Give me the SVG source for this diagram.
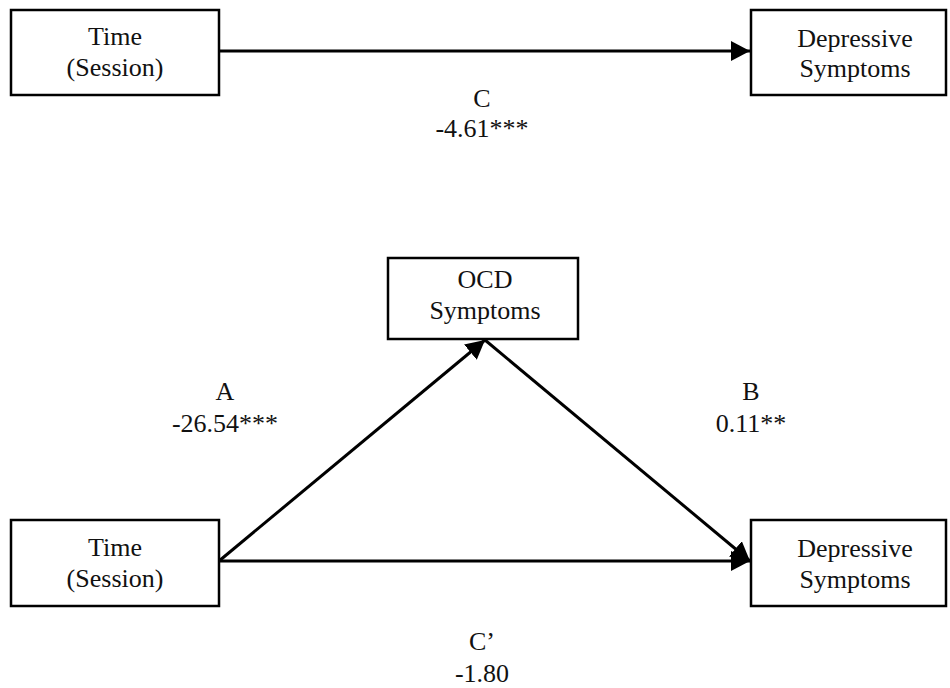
<svg xmlns="http://www.w3.org/2000/svg" width="950" height="688" viewBox="0 0 950 688">
<style>
.box{fill:#fff;stroke:#000;stroke-width:2.5}
.t{font-family:"Liberation Serif","DejaVu Serif","Times New Roman",serif;font-size:26px;fill:#111;text-anchor:middle}
.c{stroke:#000;stroke-width:3;fill:none}
</style>
<defs>
<marker id="ah" markerUnits="userSpaceOnUse" markerWidth="20" markerHeight="20" refX="19" refY="10" orient="auto">
<path d="M0,0 L19,10 L0,20 z" fill="#000"/>
</marker>
</defs>
<rect width="950" height="688" fill="#fff"/>
<g id="connectors">
<line class="c" x1="219" y1="51" x2="750" y2="51" marker-end="url(#ah)"/>
<line class="c" x1="219" y1="561" x2="485" y2="340" marker-end="url(#ah)"/>
<line class="c" x1="485" y1="340" x2="750" y2="561" marker-end="url(#ah)"/>
<line class="c" x1="219" y1="561" x2="750" y2="561" marker-end="url(#ah)"/>
</g>
<g id="time1">
<rect class="box" x="11" y="10" width="208" height="85"/>
<text class="t" x="115" y="45" font-family="Liberation Serif, serif">Time</text>
<text class="t" x="115" y="76" font-family="Liberation Serif, serif">(Session)</text>
</g>
<g id="dep1">
<rect class="box" x="751" y="10" width="195" height="85"/>
<text class="t" x="855" y="47">Depressive</text>
<text class="t" x="855" y="77">Symptoms</text>
</g>
<g id="ocd">
<rect class="box" x="388" y="258" width="190" height="81"/>
<text class="t" x="485" y="288">OCD</text>
<text class="t" x="485" y="319">Symptoms</text>
</g>
<g id="time2">
<rect class="box" x="11" y="520" width="208" height="86"/>
<text class="t" x="115" y="556">Time</text>
<text class="t" x="115" y="587">(Session)</text>
</g>
<g id="dep2">
<rect class="box" x="751" y="520" width="195" height="86"/>
<text class="t" x="855" y="557">Depressive</text>
<text class="t" x="855" y="588">Symptoms</text>
</g>
<g id="labels">
<text class="t" x="482" y="107">C</text>
<text class="t" x="482" y="137">-4.61***</text>
<text class="t" x="225" y="400">A</text>
<text class="t" x="225" y="432">-26.54***</text>
<text class="t" x="751" y="400">B</text>
<text class="t" x="751" y="432">0.11**</text>
<text class="t" x="482" y="650">C’</text>
<text class="t" x="482" y="682">-1.80</text>
</g>
</svg>
